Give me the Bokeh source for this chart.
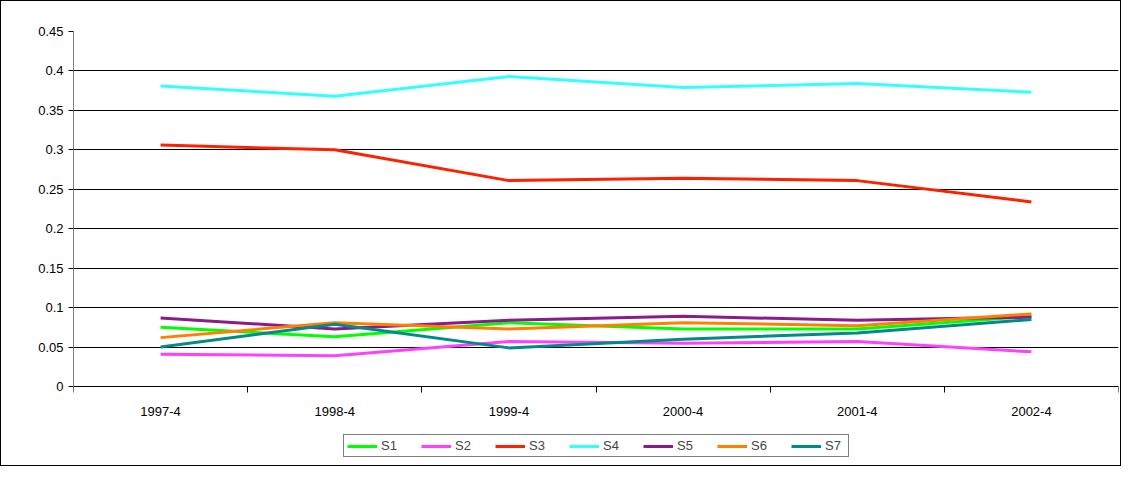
from bokeh.plotting import figure
from bokeh.models import FixedTicker, Legend, LegendItem
from bokeh.embed import file_html
from bokeh.resources import INLINE

cats = ["1997-4", "1998-4", "1999-4", "2000-4", "2001-4", "2002-4"]
s1 = [0.075, 0.063, 0.081, 0.073, 0.073, 0.089]
s2 = [0.041, 0.039, 0.057, 0.055, 0.057, 0.044]
s3 = [0.306, 0.300, 0.261, 0.264, 0.261, 0.234]
s4 = [0.381, 0.368, 0.393, 0.379, 0.384, 0.373]
s5 = [0.087, 0.073, 0.084, 0.089, 0.084, 0.088]
s6 = [0.062, 0.081, 0.073, 0.081, 0.077, 0.092]
s7 = [0.050, 0.079, 0.049, 0.060, 0.068, 0.085]
names = ["S1", "S2", "S3", "S4", "S5", "S6", "S7"]
series = [s1, s2, s3, s4, s5, s6, s7]
colors = ["#00ff00", "#ff40ff", "#ff2000", "#33ffff", "#8b1a8b", "#ff8000", "#008b8b"]
yticks = [0, 0.05, 0.1, 0.15, 0.2, 0.25, 0.3, 0.35, 0.4, 0.45]
ytick_labels = ["0", "0.05", "0.1", "0.15", "0.2", "0.25", "0.3", "0.35", "0.4", "0.45"]

x = list(range(len(cats)))
x0, x1 = -0.5, len(cats) - 0.5
p = figure(frame_width=1045, frame_height=430, output_backend="svg", toolbar_location=None,
           x_range=(x0, x1), y_range=(-0.095, 0.45),
           min_border_left=72, min_border_right=2, min_border_top=30, min_border_bottom=4)
p.styles = {"border": "1px solid black"}
p.outline_line_color = None
p.xgrid.grid_line_color = None
p.ygrid.grid_line_color = "black"
p.ygrid.ticker = FixedTicker(ticks=yticks[1:])
p.yaxis.ticker = FixedTicker(ticks=yticks)
p.yaxis.major_label_overrides = dict(zip(yticks, ytick_labels))
p.yaxis.axis_line_color = None
p.segment(x0=[x0], y0=[yticks[0]], x1=[x0], y1=[yticks[-1]], line_color="black", line_width=1)
p.xaxis.fixed_location = 0
p.xaxis.ticker = FixedTicker(ticks=x, minor_ticks=[i - 0.5 for i in range(len(cats) + 1)])
p.xaxis.major_label_overrides = {i: c for i, c in enumerate(cats)}
p.xaxis.major_tick_line_color = None
p.xaxis.minor_tick_in = 0
p.xaxis.minor_tick_out = 6
p.yaxis.minor_tick_line_color = None
p.yaxis.major_tick_in = 0
p.yaxis.major_tick_out = 5
for ax in (p.xaxis, p.yaxis):
    ax.major_label_text_font = "Liberation Sans"
    ax.major_label_text_font_size = "13px"
    ax.major_label_text_color = "black"
p.xaxis.axis_line_color = "black"
p.xaxis.major_label_standoff = 14

items = []
for n, s, c in zip(names, series, colors):
    r = p.line(x, s, line_color=c, line_width=3)
    items.append(LegendItem(label=n, renderers=[r]))
leg = Legend(items=items, orientation="horizontal", location=(270, 4),
             border_line_color="black", label_text_font="Liberation Sans",
             label_text_font_size="13px", glyph_width=30, glyph_height=12, spacing=20, padding=3,
             margin=0, label_standoff=4, label_height=12)
p.add_layout(leg, "center")

open("out.html", "w").write(file_html(p, INLINE))
